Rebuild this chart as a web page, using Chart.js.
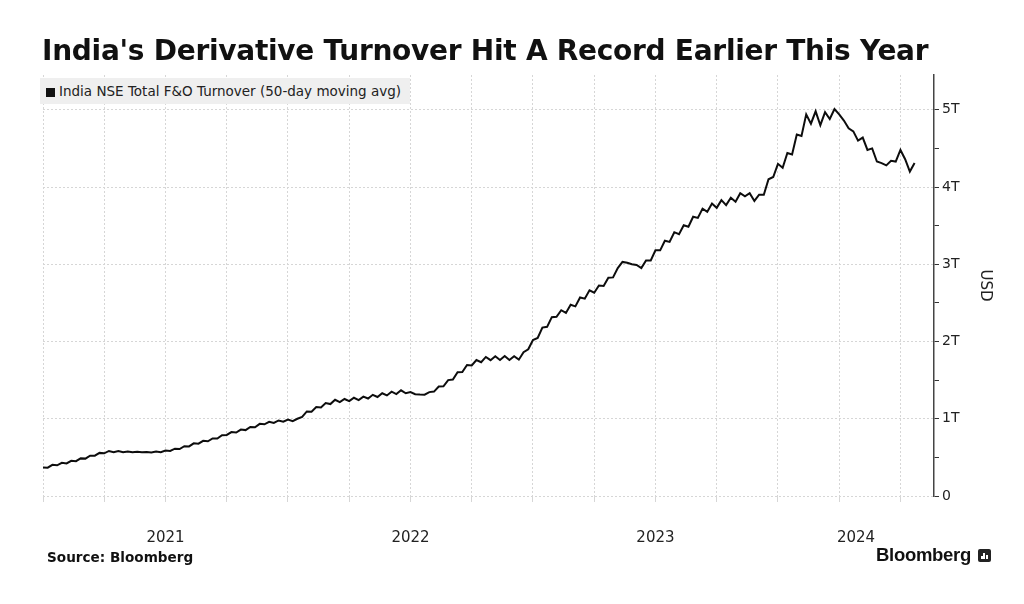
<!DOCTYPE html>
<html>
<head>
<meta charset="utf-8">
<script src="https://cdn.jsdelivr.net/npm/chart.js@4.4.1/dist/chart.umd.min.js"></script>
<style>
  body { margin: 0; background: #fff; width: 1024px; height: 604px; overflow: hidden; position: relative; font-family: "DejaVu Sans", sans-serif; color: #1a1a1a; }
  #chart { position: absolute; left: 0; top: 0; }
  #title { position: absolute; left: 42px; top: 34px; font-weight: bold; font-size: 28px; letter-spacing: -0.27px; white-space: nowrap; color: #111; }
  #legend { position: absolute; left: 40px; top: 78px; width: 370px; height: 26px; background: #efefef; font-size: 13.5px; color: #222; line-height: 26px; white-space: nowrap; }
  #legend .box { display: inline-block; width: 9px; height: 9px; background: #111; margin: 0 4px 0 6px; vertical-align: -1px; }
  #source { position: absolute; left: 47px; top: 549px; font-weight: bold; font-size: 13.6px; color: #111; }
  #brand { position: absolute; left: 876px; top: 544px; font-family: "Liberation Sans", sans-serif; font-weight: bold; font-size: 18.5px; color: #111; letter-spacing: -0.3px; }
  #brand .icon { display: inline-block; position: relative; width: 13px; height: 13px; background: #222; border-radius: 2px; margin-left: 7px; vertical-align: -1px; }
  #brand .icon i { position: absolute; bottom: 3px; width: 2px; background: #fff; }
</style>
</head>
<body>
<canvas id="chart" width="1024" height="604"></canvas>
<div id="title">India's Derivative Turnover Hit A Record Earlier This Year</div>
<div id="legend"><span class="box"></span>India NSE Total F&amp;O Turnover (50-day moving avg)</div>
<div id="source">Source: Bloomberg</div>
<div id="brand">Bloomberg<span class="icon"><i style="left:3px;height:3px"></i><i style="left:5.5px;height:6px"></i><i style="left:8px;height:4px"></i></span></div>

<script>
// Weekly 50-day average of NSE F&O turnover, trillions of USD, starting Jan 2021
const startYear = 2021;
const weeksPerYear = 52;
const turnover = [
  0.370, 0.366, 0.403, 0.397, 0.430, 0.422, 0.456, 0.451, 0.487, 0.484,
  0.522, 0.522, 0.558, 0.553, 0.583, 0.566, 0.583, 0.566, 0.577, 0.567,
  0.573, 0.566, 0.570, 0.562, 0.575, 0.568, 0.588, 0.584, 0.613, 0.608,
  0.645, 0.642, 0.682, 0.678, 0.714, 0.708, 0.745, 0.745, 0.788, 0.790,
  0.827, 0.822, 0.860, 0.853, 0.894, 0.889, 0.934, 0.928, 0.960, 0.946,
  0.978, 0.962, 0.990, 0.968, 1.000, 1.025, 1.095, 1.092, 1.152, 1.146,
  1.203, 1.190, 1.246, 1.216, 1.256, 1.228, 1.272, 1.242, 1.286, 1.262,
  1.310, 1.282, 1.330, 1.302, 1.350, 1.320, 1.368, 1.330, 1.346, 1.318,
  1.314, 1.312, 1.345, 1.352, 1.418, 1.420, 1.500, 1.508, 1.602, 1.606,
  1.696, 1.690, 1.760, 1.732, 1.800, 1.758, 1.808, 1.760, 1.812, 1.760,
  1.810, 1.765, 1.862, 1.900, 2.020, 2.045, 2.180, 2.190, 2.315, 2.320,
  2.405, 2.370, 2.475, 2.455, 2.570, 2.555, 2.662, 2.632, 2.725, 2.720,
  2.825, 2.830, 2.950, 3.030, 3.020, 3.000, 2.990, 2.950, 3.050, 3.050,
  3.180, 3.180, 3.305, 3.290, 3.415, 3.390, 3.505, 3.485, 3.615, 3.600,
  3.720, 3.680, 3.785, 3.730, 3.830, 3.765, 3.860, 3.810, 3.920, 3.880,
  3.920, 3.820, 3.900, 3.900, 4.100, 4.130, 4.300, 4.250, 4.440, 4.420,
  4.680, 4.660, 4.940, 4.820, 4.980, 4.800, 4.970, 4.880, 5.010, 4.940,
  4.860, 4.760, 4.720, 4.600, 4.640, 4.480, 4.500, 4.330, 4.310, 4.280,
  4.340, 4.330, 4.480, 4.360, 4.200, 4.310
];

const xMin = 2021;
const xMax = 2024.637;
const quarterTicks = [2021, 2021.25, 2021.5, 2021.75, 2022, 2022.25, 2022.5, 2022.75,
  2023, 2023.25, 2023.5, 2023.75, 2024, 2024.25, 2024.5];
const yearLabels = ['2021', '2022', '2023', '2024'];
const yMax = 5.45;
const yTickValues = [0, 0.5, 1, 1.5, 2, 2.5, 3, 3.5, 4, 4.5, 5];

const points = turnover.map((v, i) => ({ x: startYear + i / weeksPerYear, y: v }));

// year labels sit in the middle of the visible part of each year
const yearMids = yearLabels.map(label => {
  const y = Number(label);
  return (Math.max(y, xMin) + Math.min(y + 1, xMax)) / 2;
});

const gridGrey = '#d6d6d6';

new Chart(document.getElementById('chart'), {
  type: 'line',
  data: {
    datasets: [{
      data: points,
      xAxisID: 'x',
      yAxisID: 'y',
      borderColor: '#0d0d0d',
      borderWidth: 2,
      pointRadius: 0,
      tension: 0,
      fill: false
    }]
  },
  options: {
    responsive: false,
    animation: false,
    layout: { padding: { left: 43, top: 75, right: 30, bottom: 50 } },
    plugins: { legend: { display: false }, tooltip: { enabled: false } },
    scales: {
      x: {
        type: 'linear',
        position: 'bottom',
        weight: 0,
        min: xMin,
        max: xMax,
        afterBuildTicks: s => { s.ticks = quarterTicks.map(v => ({ value: v })); },
        ticks: { display: false },
        grid: { color: gridGrey, tickColor: gridGrey, tickLength: 6 },
        border: { display: false, dash: [2, 2] },
        afterFit: s => { s.height = 8; }
      },
      xYears: {
        type: 'linear',
        position: 'bottom',
        weight: 1,
        min: xMin,
        max: xMax,
        afterBuildTicks: s => { s.ticks = yearMids.map(v => ({ value: v })); },
        ticks: {
          callback: (v, i) => yearLabels[i],
          color: '#222',
          font: { family: 'DejaVu Sans', size: 15 },
          padding: 25,
          maxRotation: 0,
          autoSkip: false
        },
        grid: { display: false, drawTicks: false },
        border: { display: false },
        afterFit: s => { s.height = 50; }
      },
      y: {
        position: 'right',
        min: 0,
        max: yMax,
        afterBuildTicks: s => { s.ticks = yTickValues.map(v => ({ value: v })); },
        ticks: {
          callback: v => Number.isInteger(v) ? (v === 0 ? '0' : v + 'T') : '',
          color: '#222',
          font: { family: 'DejaVu Sans', size: 14 },
          padding: 3
        },
        grid: {
          color: ctx => Number.isInteger(ctx.tick && ctx.tick.value) ? gridGrey : 'rgba(0,0,0,0)',
          tickColor: '#333',
          tickLength: 5
        },
        border: { color: '#444', width: 1.5, dash: [2, 2] },
        title: {
          display: true,
          text: 'USD',
          color: '#222',
          font: { family: 'DejaVu Sans', size: 15 },
          padding: { top: 0, bottom: 8 }
        },
        afterFit: s => { s.width = 60; }
      }
    }
  }
});
</script>
</body>
</html>
